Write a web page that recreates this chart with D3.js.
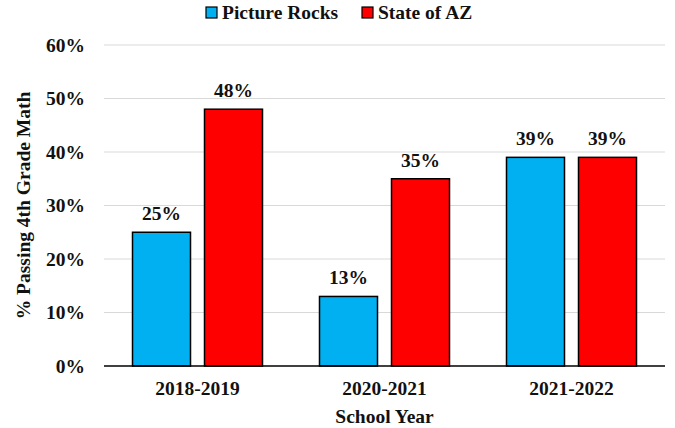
<!DOCTYPE html>
<html>
<head>
<meta charset="utf-8">
<script src="https://cdn.jsdelivr.net/npm/d3@7.9.0/dist/d3.min.js"></script>
<style>
  html, body { margin: 0; padding: 0; background: #fff; }
</style>
</head>
<body>
<svg id="chart" width="675" height="428"></svg>
<script>
// data
const years        = ['2018-2019', '2020-2021', '2021-2022'];
const seriesNames  = ['Picture Rocks', 'State of AZ'];
const pictureRocks = [25, 13, 39];
const stateOfAZ    = [48, 35, 39];
const yTicks       = [0, 10, 20, 30, 40, 50, 60];

const colors = { 'Picture Rocks': '#00b0f0', 'State of AZ': '#ff0000' };
const ink = '#111';
const fs = '19.5px';

const svg = d3.select('#chart');
const margin = { left: 104, right: 10, top: 45, bottom: 62 };
const W = 675, H = 428;

const x = d3.scaleBand().domain(years).range([margin.left, W - margin.right]);
const y = d3.scaleLinear().domain([0, 60]).range([H - margin.bottom, margin.top]);

const barW = 58, gap = 14;

// every label uses the same bold serif look
function label(sel) {
  return sel
    .style('font-family', 'Liberation Serif')
    .style('font-weight', 'bold')
    .style('font-size', fs)
    .attr('fill', ink);
}

// gridlines
svg.append('g')
  .selectAll('line')
  .data(yTicks.filter(t => t > 0))
  .enter().append('line')
    .attr('x1', margin.left).attr('x2', W - margin.right)
    .attr('y1', d => y(d)).attr('y2', d => y(d))
    .attr('stroke', '#d9d9d9').attr('stroke-width', 1);

// y tick labels
svg.append('g')
  .selectAll('text')
  .data(yTicks)
  .enter().append('text')
    .attr('x', 85).attr('y', d => y(d))
    .attr('dy', '0.35em')
    .attr('text-anchor', 'end')
    .call(label)
    .text(d => d + '%');

// bars
const rows = years.map((yr, i) => ({ year: yr, vals: [pictureRocks[i], stateOfAZ[i]] }));
const groups = svg.append('g').selectAll('g')
  .data(rows).enter().append('g');

groups.each(function (d) {
  const g = d3.select(this);
  const cx = x(d.year) + x.bandwidth() / 2;
  d.vals.forEach((v, j) => {
    const x0 = j === 0 ? cx - gap / 2 - barW : cx + gap / 2;
    g.append('rect')
      .attr('x', x0).attr('y', y(v))
      .attr('width', barW).attr('height', y(0) - y(v))
      .attr('fill', colors[seriesNames[j]])
      .attr('stroke', '#000').attr('stroke-width', 1.5);
    g.append('text')
      .attr('x', x0 + barW / 2).attr('y', y(v) - 12)
      .attr('text-anchor', 'middle')
      .call(label)
      .text(v + '%');
  });
});

// baseline
svg.append('line')
  .attr('x1', margin.left).attr('x2', W - margin.right)
  .attr('y1', y(0)).attr('y2', y(0))
  .attr('stroke', '#000').attr('stroke-width', 1.5);

// x labels
svg.append('g').selectAll('text')
  .data(years).enter().append('text')
    .attr('x', d => x(d) + x.bandwidth() / 2)
    .attr('y', 395)
    .attr('text-anchor', 'middle')
    .call(label)
    .text(d => d);

// axis titles
svg.append('text')
  .attr('x', (margin.left + W - margin.right) / 2).attr('y', 423)
  .attr('text-anchor', 'middle')
  .call(label)
  .text('School Year');

svg.append('text')
  .attr('transform', `translate(30, ${(margin.top + y(0)) / 2}) rotate(-90)`)
  .attr('text-anchor', 'middle')
  .call(label)
  .text('% Passing 4th Grade Math');

// legend
const legendX = [206, 362];
const leg = svg.append('g').selectAll('g')
  .data(seriesNames).enter().append('g')
    .attr('transform', (d, i) => `translate(${legendX[i]}, 7)`);
leg.append('rect')
  .attr('width', 11).attr('height', 11)
  .attr('fill', d => colors[d]).attr('stroke', '#000').attr('stroke-width', 1.2);
leg.append('text')
  .attr('x', 16).attr('y', 12)
  .call(label)
  .text(d => d);
</script>
</body>
</html>
